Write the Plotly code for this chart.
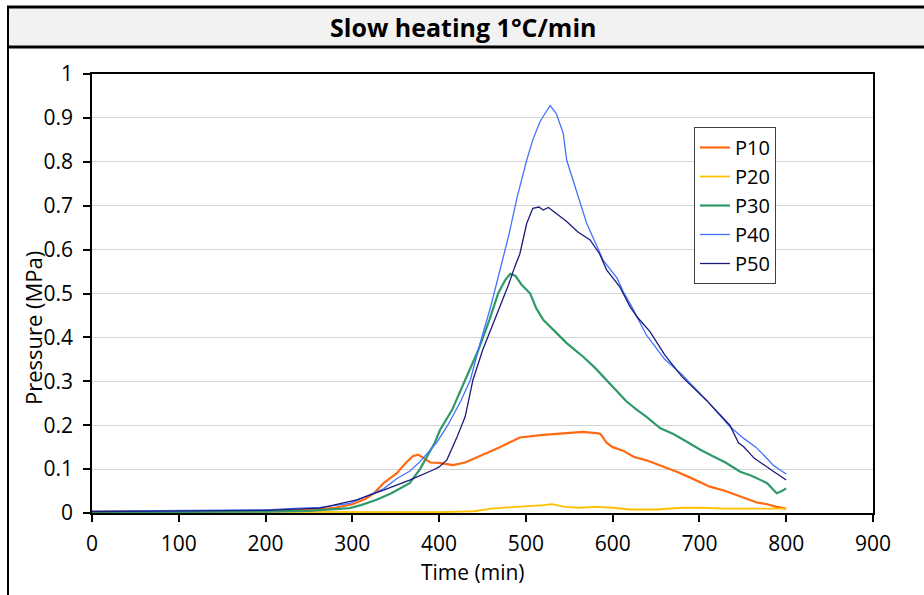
import plotly.graph_objects as go

# ---------------- data ----------------
p10_t = [0, 100, 200, 250, 280, 300, 315, 325, 336, 351, 362, 370, 376, 383, 390, 400, 416, 430, 445, 455,
         470, 493, 520, 547, 565, 581, 586, 593, 600, 612, 624, 639, 655, 674, 690, 712, 730, 747, 766, 778, 789, 800]
p10_v = [0.003, 0.003, 0.004, 0.007, 0.012, 0.020, 0.032, 0.045, 0.068, 0.090, 0.115, 0.130, 0.133, 0.124,
         0.115, 0.114, 0.109, 0.115, 0.128, 0.138, 0.150, 0.172, 0.178, 0.182, 0.185, 0.182, 0.180, 0.160,
         0.150, 0.142, 0.128, 0.120, 0.108, 0.094, 0.080, 0.060, 0.050, 0.037, 0.024, 0.020, 0.014, 0.010]

p20_t = [0, 100, 200, 300, 350, 400, 440, 460, 480, 500, 520, 530, 545, 560, 580, 600, 620, 650, 680, 700,
         730, 760, 800]
p20_v = [0.003, 0.003, 0.003, 0.002, 0.003, 0.002, 0.004, 0.010, 0.013, 0.015, 0.018, 0.020, 0.014, 0.012,
         0.014, 0.012, 0.008, 0.008, 0.012, 0.012, 0.010, 0.010, 0.010]

p30_t = [0, 100, 200, 250, 280, 297, 310, 328, 345, 366, 378, 386, 395, 401, 415, 430, 445, 458, 468, 476,
         482, 488, 495, 505, 512, 520, 535, 547, 556, 566, 580, 593, 605, 616, 628, 639, 655, 670, 685, 701,
         715, 730, 747, 760, 778, 789, 795, 800]
p30_v = [0.002, 0.002, 0.003, 0.005, 0.008, 0.011, 0.018, 0.030, 0.045, 0.068, 0.100, 0.128, 0.160, 0.189,
         0.235, 0.303, 0.370, 0.440, 0.500, 0.530, 0.545, 0.540, 0.520, 0.500, 0.466, 0.440, 0.410, 0.387,
         0.372, 0.356, 0.330, 0.303, 0.278, 0.254, 0.235, 0.219, 0.193, 0.180, 0.163, 0.144, 0.130, 0.115,
         0.094, 0.085, 0.068, 0.045, 0.050, 0.056]

p40_t = [0, 100, 200, 240, 263, 297, 324, 336, 351, 366, 378, 393, 397, 410, 425, 436, 447, 459, 470, 480,
         490, 501, 508, 516, 522, 528, 535, 543, 547, 558, 570, 582, 589, 605, 612, 622, 628, 639, 660, 680,
         708, 720, 735, 751, 765, 774, 785, 793, 800]
p40_v = [0.004, 0.005, 0.007, 0.011, 0.013, 0.022, 0.045, 0.055, 0.078, 0.095, 0.117, 0.150, 0.160, 0.200,
         0.255, 0.303, 0.385, 0.467, 0.550, 0.630, 0.720, 0.804, 0.850, 0.890, 0.910, 0.928, 0.910, 0.865,
         0.804, 0.736, 0.660, 0.607, 0.576, 0.535, 0.505, 0.470, 0.447, 0.405, 0.350, 0.315, 0.257, 0.230,
         0.197, 0.170, 0.150, 0.132, 0.109, 0.098, 0.089]

p50_t = [0, 100, 200, 263, 305, 336, 366, 393, 400, 409, 420, 430, 439, 450, 460, 470, 480, 487, 493, 501,
         508, 515, 520, 526, 530, 540, 547, 560, 574, 585, 593, 608, 620, 628, 643, 660, 680, 708, 735, 745,
         751, 763, 774, 785, 800]
p50_v = [0.003, 0.004, 0.006, 0.011, 0.030, 0.052, 0.075, 0.098, 0.105, 0.121, 0.170, 0.219, 0.303, 0.370,
         0.420, 0.466, 0.520, 0.560, 0.590, 0.660, 0.694, 0.697, 0.690, 0.696, 0.690, 0.675, 0.664, 0.640,
         0.622, 0.590, 0.554, 0.516, 0.470, 0.447, 0.413, 0.360, 0.310, 0.257, 0.200, 0.160, 0.151, 0.125,
         0.109, 0.095, 0.075]

series_names = ["P10", "P20", "P30", "P40", "P50"]
series_t = [p10_t, p20_t, p30_t, p40_t, p50_t]
series_v = [p10_v, p20_v, p30_v, p40_v, p50_v]
series_colors = ["#ff6a10", "#ffc000", "#2f9a68", "#4273ff", "#1b1b7a"]
series_widths = [2.2, 1.8, 2.2, 1.3, 1.3]

x_ticks = [0, 100, 200, 300, 400, 500, 600, 700, 800, 900]
title_text = "Slow heating 1°C/min"
x_title = "Time (min)"
y_title = "Pressure (MPa)"

# ---------------- figure ----------------
W, H = 924, 595
L, R, T, B = 92, 873, 74, 513   # plot area in pixels


def px(x):
    return (x - L) / (R - L)


def py(y):
    return (B - y) / (B - T)


FONT = "Open Sans, Liberation Sans, sans-serif"

fig = go.Figure()
for n, t, v, c, w in zip(series_names, series_t, series_v, series_colors, series_widths):
    fig.add_trace(go.Scatter(x=t, y=v, name=n, mode="lines",
                             line=dict(color=c, width=w)))

fig.update_layout(
    width=W, height=H,
    margin=dict(l=L, r=W - R, t=T, b=H - B, pad=0),
    paper_bgcolor="white", plot_bgcolor="white",
    font=dict(family=FONT, size=20, color="black"),
    showlegend=True,
    legend=dict(x=px(694), y=py(127), xanchor="left", yanchor="top",
                bgcolor="white", bordercolor="#404040", borderwidth=1,
                font=dict(size=20, family=FONT, color="black"),
                itemwidth=30, tracegroupgap=0),
)

fig.update_xaxes(range=[0, 900], tickvals=x_ticks, showgrid=False, zeroline=False,
                 showline=True, linecolor="black", linewidth=1.5, mirror=True,
                 ticks="outside", ticklen=7, tickwidth=1.5, tickcolor="black",
                 ticklabelstandoff=4,
                 tickfont=dict(size=21, family=FONT, color="black"))
fig.update_yaxes(range=[0, 1], dtick=0.1, showgrid=True, gridcolor="#d4d4d4", gridwidth=1,
                 zeroline=False, showline=True, linecolor="black", linewidth=1.5, mirror=True,
                 ticks="outside", ticklen=7, tickwidth=1.5, tickcolor="black",
                 ticklabelstandoff=6,
                 tickfont=dict(size=21, family=FONT, color="black"))

# table-like header frame
fig.add_shape(type="rect", xref="paper", yref="paper",
              x0=px(9), x1=px(930), y0=py(47), y1=py(8),
              fillcolor="#f2f2f2", line=dict(width=0))
fig.add_shape(type="line", xref="paper", yref="paper",
              x0=px(7), x1=px(930), y0=py(7), y1=py(7),
              line=dict(color="black", width=3))
fig.add_shape(type="line", xref="paper", yref="paper",
              x0=px(7), x1=px(930), y0=py(47), y1=py(47),
              line=dict(color="black", width=3))
fig.add_shape(type="line", xref="paper", yref="paper",
              x0=px(8), x1=px(8), y0=py(6), y1=py(600),
              line=dict(color="black", width=2))

fig.add_annotation(text="<b>" + title_text + "</b>", xref="paper", yref="paper",
                   x=px(462.5), y=py(27), showarrow=False, xanchor="center", yanchor="middle",
                   font=dict(size=25, family=FONT, color="black"))
fig.add_annotation(text=x_title, xref="paper", yref="paper",
                   x=px(473), y=py(572), showarrow=False, xanchor="center", yanchor="middle",
                   font=dict(size=21, family=FONT, color="black"))
fig.add_annotation(text=y_title, xref="paper", yref="paper",
                   x=px(33), y=py(328), showarrow=False, xanchor="center", yanchor="middle",
                   textangle=-90, font=dict(size=22, family=FONT, color="black"))

fig.write_html("out.html", config={"displayModeBar": False},
               post_script="document.body.style.margin='0px';document.body.style.overflow='hidden';")
